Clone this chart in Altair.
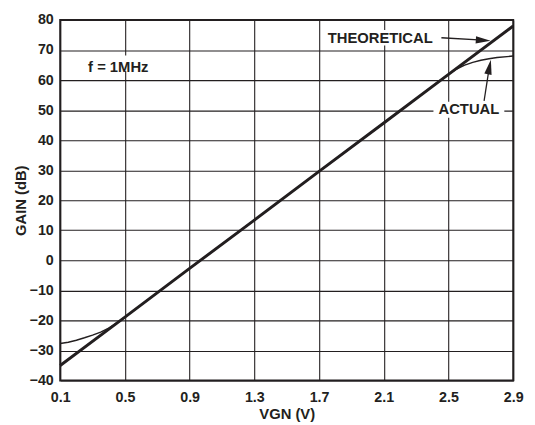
import altair as alt
import pandas as pd

# ---- data ----
theo_x = [0.1, 0.5, 0.9, 1.3, 1.7, 2.1, 2.5, 2.9]
theo_y = [-35.0, -18.9, -2.7, 13.4, 29.6, 45.7, 61.9, 78.0]

act_x = [0.1, 0.15, 0.2, 0.25, 0.3, 0.35, 0.4, 0.45, 0.5, 0.9, 1.3, 1.7, 2.1,
         2.5, 2.55, 2.6, 2.65, 2.7, 2.75, 2.8, 2.9]
act_y = [-27.7, -27.3, -26.6, -25.8, -24.9, -23.9, -22.6, -20.9, -18.9, -2.7,
         13.4, 29.6, 45.7, 61.9, 63.7, 65.0, 65.9, 66.6, 67.1, 67.5, 68.0]

x_ticks = [0.1, 0.5, 0.9, 1.3, 1.7, 2.1, 2.5, 2.9]
y_ticks = [-40, -30, -20, -10, 0, 10, 20, 30, 40, 50, 60, 70, 80]

labels = ["THEORETICAL", "ACTUAL", "f = 1MHz"]
label_x = [2.078, 2.626, 0.459]
label_y = [74.1, 50.2, 64.3]
box_x = [1.725, 2.407, 0.247]
box_x2 = [2.419, 2.845, 0.679]
box_y = [76.7, 52.8, 68.2]
box_y2 = [71.5, 47.5, 63.0]

# arrows: start -> near tip, and arrowhead tips
arr_x = [2.456, 2.720]
arr_y = [74.1, 53.1]
arr_x2 = [2.711, 2.754]
arr_y2 = [73.3, 64.9]
tip_x = [2.760, 2.762]
tip_y = [73.1, 66.8]
head_angle = [3.5, 11.4]

INK = "#231f20"
FONT = "Liberation Sans"
ARROW_RIGHT = "M-2,-0.5L0,0L-2,0.5Z"
ARROW_UP = "M-0.5,2L0,0L0.5,2Z"

theo = pd.DataFrame({"x": theo_x, "y": theo_y})
act = pd.DataFrame({"x": act_x, "y": act_y})
lab = pd.DataFrame({"t": labels, "x": label_x, "y": label_y,
                    "bx": box_x, "bx2": box_x2, "by": box_y, "by2": box_y2})
arr = pd.DataFrame({"x": arr_x, "y": arr_y, "x2": arr_x2, "y2": arr_y2})
heads = pd.DataFrame({"x": tip_x, "y": tip_y, "s": [ARROW_RIGHT, ARROW_UP],
                      "a": head_angle})

xs = alt.Scale(domain=[0.1, 2.9], nice=False, zero=False)
ys = alt.Scale(domain=[-40, 80], nice=False, zero=False)

xax = alt.Axis(values=x_ticks, title="VGN (V)", format=".1f", grid=True,
               tickCount=len(x_ticks), labelPadding=10, titlePadding=3)
yax = alt.Axis(values=y_ticks, title="GAIN (dB)", grid=True,
               tickCount=len(y_ticks), labelPadding=7, titlePadding=1)


def X(f):
    return alt.X(f, type="quantitative", scale=xs, axis=xax)


def Y(f):
    return alt.Y(f, type="quantitative", scale=ys, axis=yax)


boxes = alt.Chart(lab).mark_rect(color="white").encode(
    x=X("bx"), x2="bx2", y=Y("by"), y2="by2")
base_theo = alt.Chart(theo).mark_line(color=INK, strokeWidth=3).encode(
    x=X("x"), y=Y("y"))
line_act = alt.Chart(act).mark_line(color=INK, strokeWidth=1.5).encode(
    x=X("x"), y=Y("y"))
texts = alt.Chart(lab).mark_text(font=FONT, fontWeight="bold", fontSize=15,
                                 color=INK).encode(
    x=X("x"), y=Y("y"), text="t:N")
arrows = alt.Chart(arr).mark_rule(color=INK, strokeWidth=1.3).encode(
    x=X("x"), y=Y("y"), x2="x2", y2="y2")
arrowheads = alt.Chart(heads).mark_point(filled=True, color=INK, opacity=1,
                                         size=225, strokeWidth=0).encode(
    x=X("x"), y=Y("y"),
    shape=alt.Shape("s:N", scale=None, legend=None),
    angle=alt.Angle("a:Q", scale=None))

chart = alt.layer(boxes, base_theo, line_act, arrows, arrowheads, texts).properties(
    width=460, height=366,
    autosize=alt.AutoSizeParams(type="none"),
    padding={"left": 53, "top": 9, "right": 14, "bottom": 42},
).configure_view(stroke=INK, strokeWidth=2).configure_axis(
    labelFont=FONT, labelFontWeight="bold", labelFontSize=14.5, labelColor=INK,
    titleFont=FONT, titleFontWeight="bold", titleFontSize=15, titleColor=INK,
    gridColor=INK, gridOpacity=1, gridWidth=1.1,
    domain=False, ticks=False,
    labelOverlap=False, labelFlush=False, labelBound=False,
)

chart.save("out.html", embed_options={"renderer": "svg", "actions": False})
